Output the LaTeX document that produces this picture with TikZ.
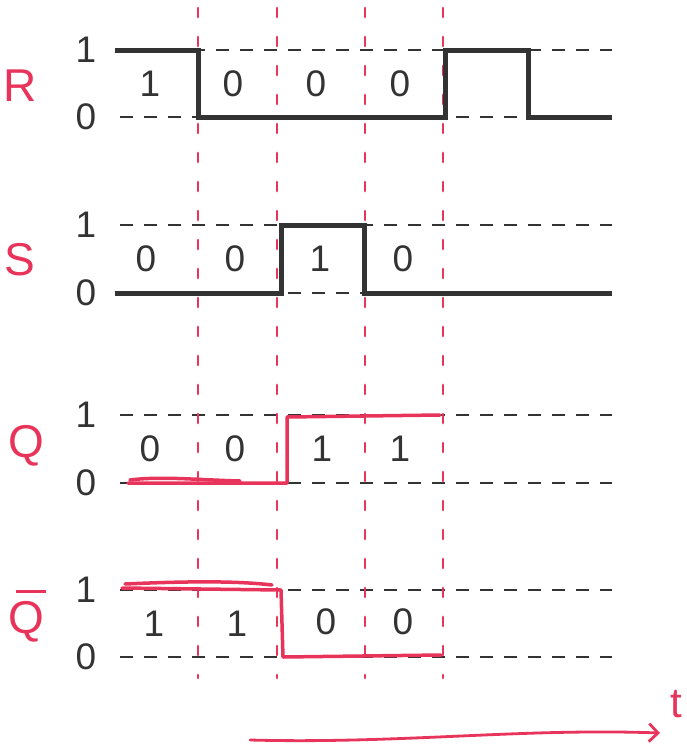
\documentclass[tikz,border=0pt]{standalone}
\usepackage{fontspec}
\setmainfont{Liberation Sans}
\usetikzlibrary{arrows.meta}
\definecolor{pen}{HTML}{E8335A}
\definecolor{ink}{HTML}{333333}
\tikzset{
  grid/.style={ink, line width=2.5pt, dash pattern=on 13pt off 11pt},
  wave/.style={ink, line width=5pt, line join=miter},
  redwave/.style={pen, line width=3.5pt, line join=round, line cap=round},
  marker/.style={pen, line width=2.8pt, line cap=round, dash pattern=on 9pt off 20pt},
  sig/.style={pen, font=\fontsize{46}{46}\selectfont},
  lvl/.style={ink, font=\fontsize{37}{37}\selectfont},
  val/.style={ink, font=\fontsize{37}{37}\selectfont},
}
\begin{document}
\begin{tikzpicture}[x=1pt,y=-1pt]
\useasboundingbox (0,0) rectangle (687,753);
% dashed level lines
\foreach \y in {50,117,225,293,415,483,590,657}{
  \draw[grid] (120,\y) -- (612,\y);
}
% timing markers
\foreach \x/\n in {198/m1,277/m2,365/m3,443/m4}{
  \coordinate (\n top) at (\x,8);
  \coordinate (\n bot) at (\x,678);
  \draw[marker] (\n top) -- (\n bot);
}
% signal labels
\node[sig] (lR) at (20,86) {R};
\node[sig] (lS) at (20,260) {S};
\node[sig] (lQ) at (26,446) {Q};
\node[sig] (lQb) at (26,622) {Q};
\draw[pen, line width=3pt] (16,591) -- (46,591);
% level labels
\foreach \y/\t/\n in {50/1/a1,117/0/a0,225/1/b1,293/0/b0,415/1/c1,483/0/c0,590/1/d1,657/0/d0}{
  \node[lvl] (\n) at (86,\y) {\t};
}
% R waveform
\draw[wave] (115,50) -- (198,50) -- (198,117) -- (445,117) -- (445,50) -- (528,50) -- (528,117) -- (612,117);
% S waveform
\draw[wave] (115,293) -- (281,293) -- (281,225) -- (364,225) -- (364,293) -- (612,293);
% Q waveform
\draw[redwave] (128,483) -- (287,483) -- (287,417) -- (440,415);
\draw[redwave] (130,480) .. controls (160,476) and (200,480) .. (240,481);
% Qbar waveform
\draw[redwave] (122,588) -- (281,590) -- (283,657) -- (441,655);
\draw[redwave] (125,584) .. controls (170,582) and (230,580) .. (272,585);
% values
\node[val] (r1) at (150,84) {1};
\node[val] (r2) at (233,84) {0};
\node[val] (r3) at (316,84) {0};
\node[val] (r4) at (400,84) {0};
\node[val] (s1) at (146,259) {0};
\node[val] (s2) at (235,259) {0};
\node[val] (s3) at (320,259) {1};
\node[val] (s4) at (403,259) {0};
\node[val] (q1) at (150,449) {0};
\node[val] (q2) at (235,449) {0};
\node[val] (q3) at (322,449) {1};
\node[val] (q4) at (400,449) {1};
\node[val] (n1) at (154,624) {1};
\node[val] (n2) at (237,624) {1};
\node[val] (n3) at (326,622) {0};
\node[val] (n4) at (403,622) {0};
% time axis
\coordinate (t0) at (250,740);
\coordinate (t1) at (660,733);
\draw[pen, line width=2.8pt, line cap=round, -{Straight Barb[length=9pt,width=18pt]}] (t0) .. controls (400,744) and (520,728) .. (t1);
\node[pen, font=\fontsize{42}{42}\selectfont] (tl) at (676,704) {t};
\end{tikzpicture}
\end{document}
